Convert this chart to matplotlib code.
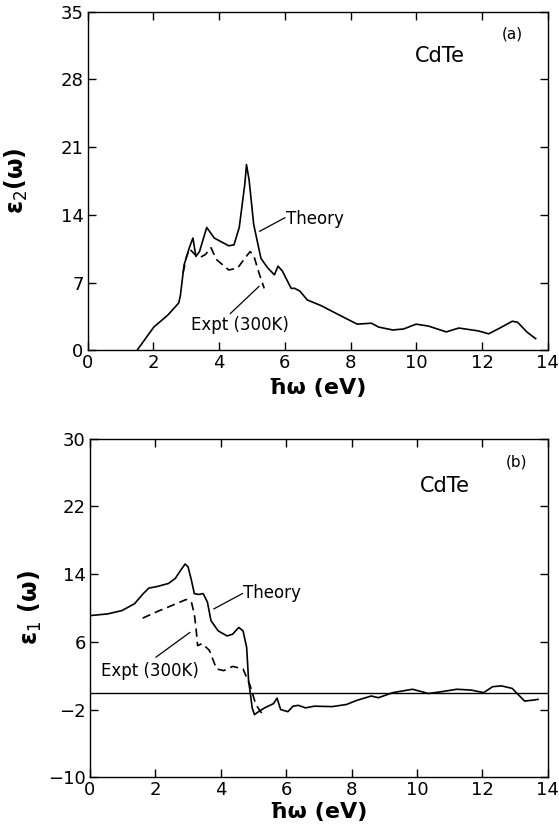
import matplotlib.pyplot as plt

plt.rcParams['font.family'] = ['DejaVu Sans']

# eps2 (imaginary part), panel (a)
e2_theory_x = [1.50, 2.01, 2.44, 2.77, 2.82, 2.93, 3.09, 3.20, 3.29, 3.40, 3.62, 3.85,
               4.29, 4.45, 4.61, 4.78, 4.83, 4.91, 5.05, 5.27, 5.48, 5.68, 5.79, 5.92,
               6.19, 6.30, 6.46, 6.68, 7.11, 7.65, 8.20, 8.63, 8.85, 9.28, 9.61, 9.99,
               10.37, 10.91, 11.29, 11.89, 12.20, 12.54, 12.92, 13.08, 13.36, 13.63]
e2_theory_y = [0.0, 2.4, 3.65, 4.9, 5.7, 8.8, 10.6, 11.6, 9.7, 10.2, 12.7, 11.6,
               10.8, 10.9, 12.7, 17.2, 19.2, 17.6, 13.0, 9.5, 8.5, 7.8, 8.7, 8.2,
               6.4, 6.4, 6.1, 5.2, 4.6, 3.65, 2.7, 2.8, 2.4, 2.1, 2.2, 2.7,
               2.5, 1.9, 2.3, 2.0, 1.7, 2.3, 3.0, 2.9, 1.9, 1.2]
e2_expt_x = [2.90, 3.00, 3.09, 3.26, 3.42, 3.58, 3.75, 3.91, 4.29, 4.56, 4.80, 4.94,
             5.05, 5.21, 5.37]
e2_expt_y = [8.0, 9.6, 10.5, 9.9, 9.6, 9.9, 10.6, 9.4, 8.3, 8.5, 9.6, 10.2,
             9.8, 8.0, 6.4]

# eps1 (real part), panel (b)
e1_theory_x = [0.0, 0.54, 0.98, 1.36, 1.63, 1.80, 2.07, 2.40, 2.61, 2.78, 2.91, 3.00,
               3.10, 3.19, 3.32, 3.46, 3.59, 3.70, 3.92, 4.19, 4.36, 4.55, 4.68, 4.79,
               4.85, 4.90, 4.96, 5.03, 5.17, 5.34, 5.61, 5.72, 5.83, 6.05, 6.21, 6.37,
               6.59, 6.86, 7.41, 7.84, 8.17, 8.60, 8.82, 9.26, 9.86, 10.35, 10.78, 11.22,
               11.66, 12.04, 12.31, 12.58, 12.91, 13.29, 13.51, 13.70]
e1_theory_y = [9.1, 9.3, 9.7, 10.5, 11.7, 12.35, 12.55, 12.9, 13.5, 14.5, 15.2, 14.85,
               13.3, 11.7, 11.6, 11.7, 10.7, 8.5, 7.3, 6.7, 6.9, 7.7, 7.3, 5.35,
               1.4, 0.0, -1.8, -2.6, -2.2, -1.8, -1.3, -0.65, -2.0, -2.25, -1.6, -1.5,
               -1.8, -1.6, -1.65, -1.4, -0.9, -0.4, -0.6, 0.0, 0.4, -0.1, 0.13, 0.4,
               0.3, 0.0, 0.7, 0.8, 0.5, -1.0, -0.9, -0.8]
e1_expt_x = [1.61, 2.07, 2.51, 2.94, 3.10, 3.19, 3.25, 3.29, 3.43, 3.65, 3.87, 4.09,
             4.36, 4.68, 4.90, 5.07, 5.28]
e1_expt_y = [8.8, 9.6, 10.3, 11.0, 10.7, 9.3, 7.3, 5.55, 5.8, 5.0, 2.8, 2.6,
             3.1, 2.8, 0.8, -1.4, -2.6]

x_ticks = [0, 2, 4, 6, 8, 10, 12, 14]
e2_ticks = [0, 7, 14, 21, 28, 35]
e1_ticks = [-10, -2, 6, 14, 22, 30]

fig = plt.figure(figsize=(5.59, 8.34), dpi=100)
ax1 = fig.add_axes([0.157, 0.580, 0.823, 0.406])
ax2 = fig.add_axes([0.161, 0.068, 0.819, 0.406])


def style_axes(ax, yticks):
    ax.set_xlim(0, 14)
    ax.set_ylim(yticks[0], yticks[-1])
    ax.set_xticks(x_ticks)
    ax.set_yticks(yticks)
    ax.tick_params(direction='in', length=6, width=1, top=True, right=True,
                   labelsize=13, pad=3)
    for s in ax.spines.values():
        s.set_linewidth(1.0)


# panel (a)
ax1.plot(e2_theory_x, e2_theory_y, color='black', lw=1.2)
ax1.plot(e2_expt_x, e2_expt_y, color='black', lw=1.2, dashes=(5, 3))
style_axes(ax1, e2_ticks)
ax1.set_xlabel('ħω (eV)', fontsize=16, fontweight='bold', labelpad=4)
ax1.set_ylabel('ε$_2$(ω)', fontsize=17, fontweight='bold', labelpad=22)
ax1.plot([5.23, 6.0], [12.3, 13.7], color='black', lw=0.9)
ax1.text(6.03, 13.6, 'Theory', fontsize=12, va='center', ha='left')
ax1.plot([4.34, 5.21], [3.8, 6.6], color='black', lw=0.9)
ax1.text(3.15, 2.6, 'Expt (300K)', fontsize=12, va='center', ha='left')
ax1.text(9.95, 30.4, 'CdTe', fontsize=15, va='center', ha='left')
ax1.text(12.6, 32.7, '(a)', fontsize=11, va='center', ha='left')

# panel (b)
ax2.axhline(0, color='black', lw=1.0)
ax2.plot(e1_theory_x, e1_theory_y, color='black', lw=1.2)
ax2.plot(e1_expt_x, e1_expt_y, color='black', lw=1.2, dashes=(5, 3))
style_axes(ax2, e1_ticks)
ax2.set_xlabel('ħω (eV)', fontsize=16, fontweight='bold', labelpad=2)
ax2.set_ylabel('ε$_1$ (ω)', fontsize=17, fontweight='bold', labelpad=3)
ax2.plot([3.79, 4.66], [9.9, 11.7], color='black', lw=0.9)
ax2.text(4.68, 11.8, 'Theory', fontsize=12, va='center', ha='left')
ax2.plot([2.02, 3.05], [4.2, 7.1], color='black', lw=0.9)
ax2.text(0.33, 2.6, 'Expt (300K)', fontsize=12, va='center', ha='left')
ax2.text(10.1, 24.4, 'CdTe', fontsize=15, va='center', ha='left')
ax2.text(12.7, 27.3, '(b)', fontsize=11, va='center', ha='left')

fig.savefig('out.png', dpi=100)
